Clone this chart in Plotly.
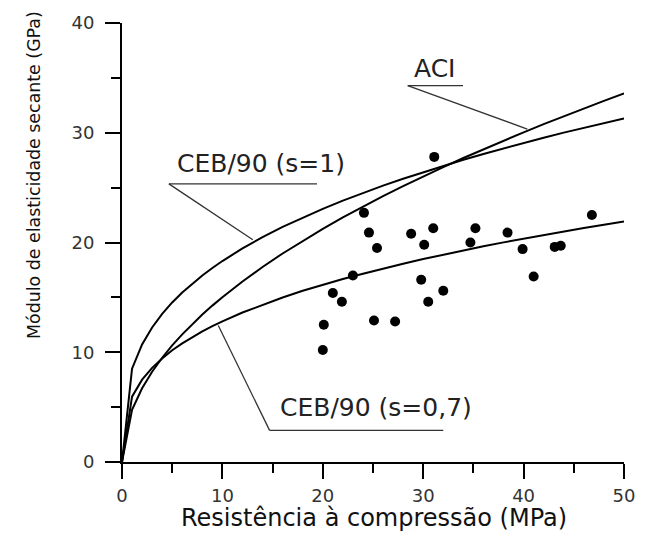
import plotly.graph_objects as go

# Experimental data (fc in MPa, E in GPa)
fc_data = [31.1, 24.1, 24.6, 25.4, 28.8, 31.0, 30.1, 35.2, 34.7, 38.4, 39.9, 43.1, 43.7,
           41.0, 46.8, 23.0, 21.0, 21.9, 20.1, 20.0, 25.1, 27.2, 29.8, 30.5, 32.0]
E_data = [27.8, 22.7, 20.9, 19.5, 20.8, 21.3, 19.8, 21.3, 20.0, 20.9, 19.4, 19.6, 19.7,
          16.9, 22.5, 17.0, 15.4, 14.6, 12.5, 10.2, 12.9, 12.8, 16.6, 14.6, 15.6]

# Curves
fc_curve = [0, 1, 2, 3, 4, 5, 6, 7, 8, 9, 10, 12, 14, 16, 18, 20, 22, 24, 26, 28, 30,
            32, 34, 36, 38, 40, 42, 44, 46, 48, 50]
E_aci = [0, 4.75, 6.72, 8.23, 9.50, 10.62, 11.63, 12.57, 13.44, 14.25, 15.02, 16.45, 17.77,
         19.00, 20.15, 21.24, 22.28, 23.27, 24.22, 25.13, 26.02, 26.87, 27.70, 28.50, 29.28,
         30.04, 30.78, 31.51, 32.22, 32.91, 33.59]
E_ceb1 = [0, 8.50, 10.71, 12.26, 13.49, 14.54, 15.44, 16.26, 17.00, 17.68, 18.31, 19.46, 20.49,
          21.42, 22.28, 23.07, 23.82, 24.51, 25.18, 25.81, 26.41, 26.99, 27.54, 28.07, 28.58,
          29.07, 29.55, 30.01, 30.46, 30.89, 31.31]
E_ceb07 = [0, 5.95, 7.50, 8.58, 9.44, 10.18, 10.81, 11.38, 11.90, 12.38, 12.82, 13.62, 14.34,
           14.99, 15.60, 16.15, 16.67, 17.16, 17.63, 18.07, 18.49, 18.89, 19.28, 19.65, 20.01,
           20.35, 20.69, 21.01, 21.32, 21.62, 21.92]

x_ticks = [0, 10, 20, 30, 40, 50]
y_ticks = [0, 10, 20, 30, 40]

FONT = "DejaVu Sans"

fig = go.Figure()
for yv in (E_aci, E_ceb1, E_ceb07):
    fig.add_trace(go.Scatter(x=fc_curve, y=yv, mode="lines",
                             line=dict(color="black", width=2), hoverinfo="skip"))
fig.add_trace(go.Scatter(x=fc_data, y=E_data, mode="markers",
                         marker=dict(color="black", size=10)))

# Labels with leader lines (underline + slanted line)
labels = [
    dict(text="ACI", tx=31.2, ty=35.9, line=[(33.97, 34.3), (28.46, 34.3)], end=(40.37, 30.34)),
    dict(text="CEB/90 (s=1)", tx=13.8, ty=27.2, line=[(19.42, 25.34), (4.67, 25.34)], end=(13.03, 20.25)),
    dict(text="CEB/90 (s=0,7)", tx=25.3, ty=5.0, line=[(32.0, 2.88), (14.7, 2.88)], end=(9.59, 12.43)),
]
for lb in labels:
    fig.add_annotation(x=lb["tx"], y=lb["ty"], text=lb["text"], showarrow=False,
                       xanchor="center", yanchor="middle",
                       font=dict(family=FONT, size=25, color="#222"), xref="x", yref="y")
    (x0, y0), (x1, y1) = lb["line"]
    fig.add_shape(type="line", x0=x0, y0=y0, x1=x1, y1=y1, xref="x", yref="y",
                  line=dict(color="#333", width=1.3))
    fig.add_shape(type="line", x0=x1, y0=y1, x1=lb["end"][0], y1=lb["end"][1], xref="x", yref="y",
                  line=dict(color="#333", width=1.3))

fig.add_annotation(x=0.501, y=-0.127, xref="paper", yref="paper", showarrow=False,
                   xanchor="center", yanchor="middle",
                   text="Resistência à compressão (MPa)",
                   font=dict(family=FONT, size=24, color="#111"))
fig.add_annotation(x=-0.1768, y=0.6545, xref="paper", yref="paper", showarrow=False,
                   xanchor="center", yanchor="middle",
                   text="Módulo de elasticidade secante (GPa)", textangle=-90,
                   font=dict(family=FONT, size=17.4, color="#111"))

axis_common = dict(showline=True, linecolor="black", linewidth=2, ticks="outside",
                   ticklen=15, tickwidth=2, tickcolor="black", showgrid=False, zeroline=False,
                   tickfont=dict(family=FONT, size=18, color="#333"),
                   minor=dict(ticks="outside", ticklen=9, tickwidth=2, tickcolor="black", dtick=5,
                              showgrid=False))
fig.update_xaxes(range=[0, 50], tickvals=x_ticks, ticklabelstandoff=1, **axis_common)
fig.update_yaxes(range=[0, 40], tickvals=y_ticks, ticklabelstandoff=7, **axis_common)
fig.update_layout(width=647, height=534, showlegend=False,
                  margin=dict(l=122, r=16, t=22, b=72),
                  plot_bgcolor="white", paper_bgcolor="white")

fig.write_html("out.html")
